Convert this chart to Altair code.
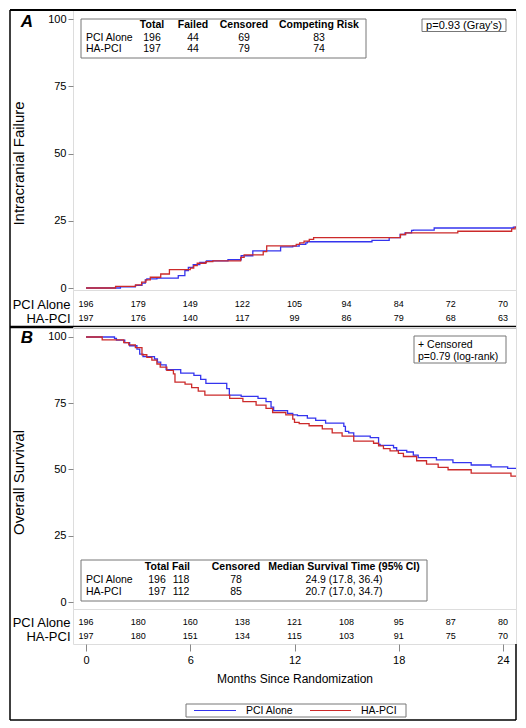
import pandas as pd
import altair as alt

FONT = "Liberation Sans"

groups = ["PCI Alone", "HA-PCI"]
colors = ["#3434EE", "#CC2A2A"]

# Panel A: intracranial failure (%), step change points
a_pci_months = [0, 1.98, 2.84, 3.22, 3.41, 3.5, 4.08, 5.31, 5.69, 5.89, 6.17, 6.55, 6.93, 8.17, 8.93,
                9.6, 11.2, 11.9, 12.27, 12.65, 12.74, 16.46, 17.45, 18.08, 18.36, 18.74, 18.84, 20.04,
                24.6, 24.75]
a_pci_values = [0, 0.4, 1.0, 1.8, 3.0, 3.4, 3.7, 4.6, 6.5, 7.7, 8.7, 9.5, 10.1, 10.5, 12.0,
                 13.8, 15.3, 15.6, 16.2, 16.8, 17.2, 17.7, 18.7, 19.9, 20.5, 21.4, 21.5, 22.3,
                 22.6, 22.6]
a_ha_months = [0, 1.7, 2.85, 3.2, 3.45, 3.7, 4.3, 4.8, 6.0, 6.2, 6.4, 6.9, 7.3, 8.9, 9.1, 10.2, 10.4,
               12.1, 12.3, 12.55, 12.85, 13.1, 18.1, 18.4, 21.4, 24.5, 24.7, 24.75]
a_ha_values = [0, 0.6, 1.2, 2.2, 3.0, 4.0, 5.2, 6.8, 7.4, 8.3, 9.2, 9.8, 10.1, 11.4, 12.3, 13.5, 15.7,
               16.2, 16.8, 17.4, 18.1, 18.7, 19.9, 20.5, 21.1, 22.0, 22.6, 22.6]

# Panel B: overall survival (%)
b_pci_months = [0, 1.64, 1.75, 2.23, 2.51, 2.93, 3.09, 3.28, 3.94, 4.11, 4.3, 4.61, 5.45, 6.21, 6.6,
                6.9, 8.1, 8.25, 8.93, 9.9, 10.36, 10.65, 10.8, 11.6, 11.9, 12.17, 12.74, 13.22, 13.79,
                14.84, 14.93, 15.12, 15.41, 16.36, 16.84, 16.93, 17.7, 17.88, 18.46, 18.84, 19.12,
                20.17, 21.12, 22.17, 23.31, 24.27, 24.75]
b_pci_values = [100, 99.5, 98.8, 97.9, 96.7, 95.4, 93.5, 92.6, 91.7, 90.5, 89.5, 87.7, 86.4, 85.5, 84.0,
                82.5, 80.5, 78.1, 77.6, 76.8, 75.6, 73.5, 72.2, 71.2, 70.6, 70.3, 69.4, 68.5, 67.5,
                66.3, 64.4, 63.8, 62.6, 62.0, 59.5, 59.1, 58.2, 57.2, 56.6, 55.4, 54.5,
                53.6, 52.6, 51.7, 51.0, 50.4, 50.4]
b_ha_months = [0, 0.93, 2.17, 2.46, 2.84, 3.22, 3.5, 3.79, 4.08, 4.27, 4.65, 5.03, 5.12, 5.7, 6.08,
               6.46, 6.84, 8.27, 9.03, 9.79, 10.36, 10.74, 11.5, 11.9, 12.0, 12.27, 12.84, 13.6, 14.17,
               14.74, 15.41, 16.55, 16.84, 17.12, 17.5, 17.98, 18.27, 19.03, 19.6, 20.27, 20.84,
               22.17, 24.46, 24.75]
b_ha_values = [100, 98.9, 97.9, 97.0, 96.0, 93.3, 92.3, 91.3, 89.8, 88.6, 87.4, 86.1, 83.0, 82.2, 80.9,
               79.6, 78.1, 76.8, 75.6, 74.3, 73.1, 71.5, 70.6, 69.0, 67.8, 67.3, 66.5, 65.3, 63.8,
               62.6, 60.7, 59.9, 58.9, 57.9, 57.0, 56.1, 54.9, 53.3, 52.0, 50.8, 49.9,
               48.6, 47.5, 47.5]

# numbers at risk
risk_months = [0, 3, 6, 9, 12, 15, 18, 21, 24]
a_risk_pci = [196, 179, 149, 122, 105, 94, 84, 72, 70]
a_risk_ha = [197, 176, 140, 117, 99, 86, 79, 68, 63]
b_risk_pci = [196, 180, 160, 138, 121, 108, 95, 87, 80]
b_risk_ha = [197, 180, 151, 134, 115, 103, 91, 75, 70]

# summary tables
a_table_head = ["Total", "Failed", "Censored", "Competing Risk"]
a_table_pci = ["196", "44", "69", "83"]
a_table_ha = ["197", "44", "79", "74"]
b_table_head = ["Total", "Fail", "Censored", "Median Survival Time (95% CI)"]
b_table_pci = ["196", "118", "78", "24.9 (17.8, 36.4)"]
b_table_ha = ["197", "112", "85", "20.7 (17.0, 34.7)"]

W = 443
A_H, AR_H, B_H, BR_H = 280, 37, 282, 35
FX = -63  # left edge of the outer frame, relative to the plot area
FB = 111  # bottom of the outer frame, relative to the top of the last at-risk box

x_scale = alt.Scale(domain=[-0.75, 24.75], nice=False, zero=False)
one = pd.DataFrame({"k": [0]})


def curve_frame(pm, pv, hm, hv):
    rows = [{"group": groups[0], "month": m, "value": v} for m, v in zip(pm, pv)]
    rows += [{"group": groups[1], "month": m, "value": v} for m, v in zip(hm, hv)]
    return pd.DataFrame(rows)


def risk_frame(pci, ha):
    rows = [{"group": groups[0], "month": m, "count": c} for m, c in zip(risk_months, pci)]
    rows += [{"group": groups[1], "month": m, "count": c} for m, c in zip(risk_months, ha)]
    return pd.DataFrame(rows)


def rule(x, y, x2=None, y2=None, width=1.0, color="black"):
    enc = {"x": alt.value(x), "y": alt.value(y)}
    if x2 is not None:
        enc["x2"] = alt.value(x2)
    if y2 is not None:
        enc["y2"] = alt.value(y2)
    return alt.Chart(one).mark_rule(color=color, strokeWidth=width).encode(**enc)


def label(x, y, text, size=10.5, align="center", weight="normal", style="normal"):
    return alt.Chart(one).mark_text(
        text=text, fontSize=size, align=align, baseline="middle", font=FONT,
        fontWeight=weight, fontStyle=style, color="black"
    ).encode(x=alt.value(x), y=alt.value(y))


def box(x, y, x2, y2):
    return alt.Chart(one).mark_rect(fill="white", stroke="#777", strokeWidth=1).encode(
        x=alt.value(x), x2=alt.value(x2), y=alt.value(y), y2=alt.value(y2))


def summary_table(x0, y0, x1, y1, rows_y, col_x, head, pci, ha):
    layers = [box(x0, y0, x1, y1)]
    layers.append(label(13, rows_y[1], groups[0], align="left"))
    layers.append(label(13, rows_y[2], groups[1], align="left"))
    for cx, h, p, q in zip(col_x, head, pci, ha):
        layers.append(label(cx, rows_y[0], h, weight="bold"))
        layers.append(label(cx, rows_y[1], p))
        layers.append(label(cx, rows_y[2], q))
    return layers


def curves(df, y_domain, title, title_y):
    return alt.Chart(df).mark_line(interpolate="step-after", strokeWidth=1.3, clip=True).encode(
        x=alt.X("month:Q", scale=x_scale, axis=None),
        y=alt.Y("value:Q", scale=alt.Scale(domain=y_domain, nice=False, zero=False),
                axis=alt.Axis(values=[0, 25, 50, 75, 100], title=title, titleX=-55, titleY=title_y,
                              titleAngle=270, titleAlign="center", titleBaseline="middle",
                              titleFontSize=15, titleFontWeight="normal", labelFontSize=11,
                              tickSize=5, labelPadding=2, domain=False, grid=False)),
        color=alt.Color("group:N", scale=alt.Scale(domain=groups, range=colors), legend=None),
    )


def risk_panel(df, pad, align, x_axis):
    return alt.Chart(df).mark_text(fontSize=9, font=FONT, color="black").encode(
        x=alt.X("month:Q", scale=x_scale, axis=x_axis),
        y=alt.Y("group:N", sort=groups,
                scale=alt.Scale(type="point", domain=groups, padding=pad, align=align),
                axis=alt.Axis(title=None, ticks=False, domain=False, labelFontSize=13,
                              labelPadding=3, labelColor="black", labelFont=FONT)),
        text="count:Q",
    )


# Panel A
a_plot = alt.layer(
    curves(curve_frame(a_pci_months, a_pci_values, a_ha_months, a_ha_values),
           [-0.74, 103.35], "Intracranial Failure", 153),
    rule(FX, 0, y2=A_H, width=1.5),
    rule(FX, 0, x2=W, width=2),
    label(-46, 12, "A", size=17, weight="bold", style="italic"),
    *summary_table(8, 9, 293, 48, [15.3, 28, 38.7], [79, 120, 171, 246],
                   a_table_head, a_table_pci, a_table_ha),
    box(349, 9, 433, 21.5),
    label(391, 15.5, "p=0.93 (Gray's)", size=11),
).properties(width=W, height=A_H)

a_risk = alt.layer(
    risk_panel(risk_frame(a_risk_pci, a_risk_ha), 0.82, 0.61, None),
    rule(FX, 0, y2=AR_H, width=1.5),
    rule(FX, AR_H, x2=W, width=2.5),
).properties(width=W, height=AR_H)

# Panel B
b_plot = alt.layer(
    curves(curve_frame(b_pci_months, b_pci_values, b_ha_months, b_ha_values),
           [-2.64, 103.77], "Overall Survival", 155),
    rule(FX, 0, y2=B_H, width=1.5),
    label(-46, 11, "B", size=17, weight="bold", style="italic"),
    box(341, 9, 433, 36),
    label(345, 17.5, "+ Censored", size=10.5, align="left"),
    label(345, 30, "p=0.79 (log-rank)", size=10.5, align="left"),
    *summary_table(8, 233, 354, 274, [240, 253, 265], [84, 108, 163, 271],
                   b_table_head, b_table_pci, b_table_ha),
).properties(width=W, height=B_H)

x_axis = alt.Axis(values=[0, 6, 12, 18, 24], format="d", title="Months Since Randomization",
                  tickSize=7, labelFontSize=11, labelPadding=3, titleFontSize=12,
                  titleFontWeight="normal", titlePadding=8, domain=False, grid=False)

# group key drawn as a boxed line legend under the axis title
b_risk = alt.layer(
    risk_panel(risk_frame(b_risk_pci, b_risk_ha), 0.75, 0.64, x_axis),
    rule(FX, 0, y2=FB, width=1.5),
    rule(FX, FB, x2=W, width=1.5),
    rule(W, BR_H, y2=FB, width=1.5),
    box(113, 95, 333, 108),
    rule(121, 101.5, x2=163, width=1.2, color=colors[0]),
    label(173, 101.5, groups[0], size=10.5, align="left"),
    rule(237, 101.5, x2=278, width=1.2, color=colors[1]),
    label(288, 101.5, groups[1], size=10.5, align="left"),
).properties(width=W, height=BR_H)

chart = alt.vconcat(a_plot, a_risk, b_plot, b_risk, spacing=0, bounds="flush").configure_view(
    stroke="black", strokeWidth=1
).configure_axis(
    labelColor="black", tickColor="black", titleColor="black", labelFont=FONT, titleFont=FONT
).configure(font=FONT).properties(background="white", padding=0)

chart.save("out.html", embed_options={"renderer": "svg", "actions": False})
